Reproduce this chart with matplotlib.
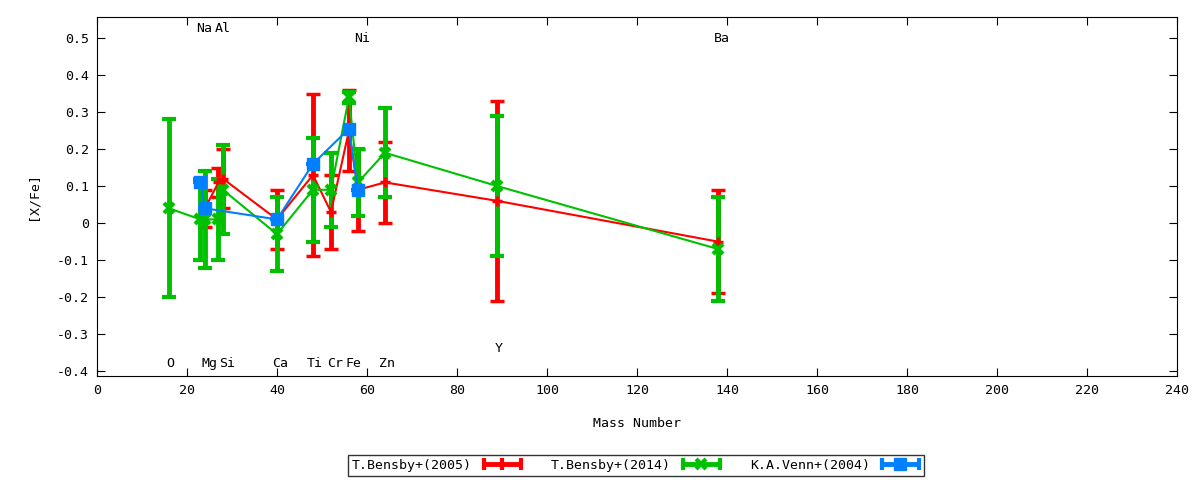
import numpy as np
import matplotlib
matplotlib.use("Agg")
import matplotlib.pyplot as plt
from matplotlib.ticker import FuncFormatter
from matplotlib.lines import Line2D
from matplotlib.legend_handler import HandlerBase

# T.Bensby+(2005)
b05_mass = [24, 27, 28, 40, 48, 52, 56, 58, 64, 89, 138]
b05_val = [0.04, 0.11, 0.12, 0.01, 0.13, 0.03, 0.25, 0.09, 0.11, 0.06, -0.05]
b05_err = [0.05, 0.04, 0.08, 0.08, 0.22, 0.10, 0.11, 0.11, 0.11, 0.27, 0.14]

# T.Bensby+(2014)
b14_mass = [16, 23, 24, 27, 28, 40, 48, 52, 56, 58, 64, 89, 138]
b14_val = [0.04, 0.01, 0.01, 0.01, 0.09, -0.03, 0.09, 0.09, 0.34, 0.11, 0.19, 0.10, -0.07]
b14_err = [0.24, 0.11, 0.13, 0.11, 0.12, 0.10, 0.14, 0.10, 0.015, 0.09, 0.12, 0.19, 0.14]

# K.A.Venn+(2004)
v04_mass = [23, 24, 40, 48, 56, 58]
v04_val = [0.11, 0.04, 0.01, 0.16, 0.255, 0.09]
v04_err = [0, 0, 0, 0, 0, 0]

# element labels
el_names = ["O", "Na", "Mg", "Al", "Si", "Ca", "Ti", "Cr", "Fe", "Ni", "Zn", "Y", "Ba"]
el_x = [16.2, 23.8, 25.0, 28.0, 28.9, 40.6, 48.4, 52.9, 56.9, 58.9, 64.4, 89.3, 138.9]
el_y = [-0.378, 0.527, -0.378, 0.527, -0.378, -0.378, -0.378, -0.378, -0.378, 0.50, -0.378, -0.34, 0.50]


class HorizErrHandler(HandlerBase):
    # gnuplot-like key sample: horizontal bar with end caps and the point in the middle
    def create_artists(self, legend, orig, xd, yd, w, h, fontsize, trans):
        c = orig.get_color()
        y = h / 2 - yd
        x0, x1 = -xd, -xd + w
        arts = [
            Line2D([x0, x1], [y, y], color=c, lw=3.5, solid_capstyle="butt"),
            Line2D([x0 + 1, x0 + 1], [y - 4, y + 4], color=c, lw=3, solid_capstyle="butt"),
            Line2D([x1 - 1, x1 - 1], [y - 4, y + 4], color=c, lw=3, solid_capstyle="butt"),
            Line2D([(x0 + x1) / 2], [y], color=c, marker=orig.get_marker(),
                   ms=orig.get_markersize(), mew=orig.get_markeredgewidth(), ls="none"),
        ]
        for a in arts:
            a.set_transform(trans)
        return arts


plt.rcParams["font.family"] = ["DejaVu Sans Mono"]
plt.rcParams["font.size"] = 9.5

fig = plt.figure(figsize=(12, 4.8), dpi=100)
ax = fig.add_axes([0.0808, 0.2167, 0.9, 0.748])

kw = dict(lw=1.5, elinewidth=3.5, capsize=5, capthick=3)
ax.errorbar(b05_mass, b05_val, yerr=b05_err, color="#ff0000", marker="+",
            ms=7, mew=2.5, **kw)
ax.errorbar(b14_mass, b14_val, yerr=b14_err, color="#00c000", marker="x",
            ms=7, mew=3, **kw)
ax.errorbar(v04_mass, v04_val, yerr=v04_err, color="#0080ff", marker="s",
            ms=8, **kw)

for n, x, y in zip(el_names, el_x, el_y):
    ax.text(x, y, n, ha="center", va="center", fontsize=9.5)

ax.set_xlim(0, 240)
ax.set_ylim(-0.413, 0.557)
ax.set_xticks(np.arange(0, 241, 20))
ax.set_yticks(np.arange(-0.4, 0.51, 0.1))
ax.yaxis.set_major_formatter(FuncFormatter(lambda v, p: "0" if abs(v) < 1e-9 else f"{v:.1f}"))
ax.tick_params(direction="in", length=6, top=True, right=True, labelsize=9.5, pad=6)
ax.set_xlabel("Mass Number", fontsize=9.5, labelpad=14)
ax.set_ylabel("[X/Fe]", fontsize=9.5, labelpad=12)

handles = [
    Line2D([], [], color="#ff0000", marker="|", ms=9, mew=3),
    Line2D([], [], color="#00c000", marker="x", ms=7, mew=3),
    Line2D([], [], color="#0080ff", marker="s", ms=8, mew=1),
]
labels = ["T.Bensby+(2005)", "T.Bensby+(2014)", "K.A.Venn+(2004)"]
leg = fig.legend(handles, labels, handler_map={Line2D: HorizErrHandler()},
                 loc="center", bbox_to_anchor=(0.53, 0.031), ncol=3, markerfirst=False,
                 frameon=True, fancybox=False, edgecolor="black", handlelength=3.0,
                 columnspacing=2.2, borderpad=0.3, handletextpad=0.8, fontsize=9.5)
leg.get_frame().set_linewidth(1.0)

fig.savefig("out.png", dpi=100)
